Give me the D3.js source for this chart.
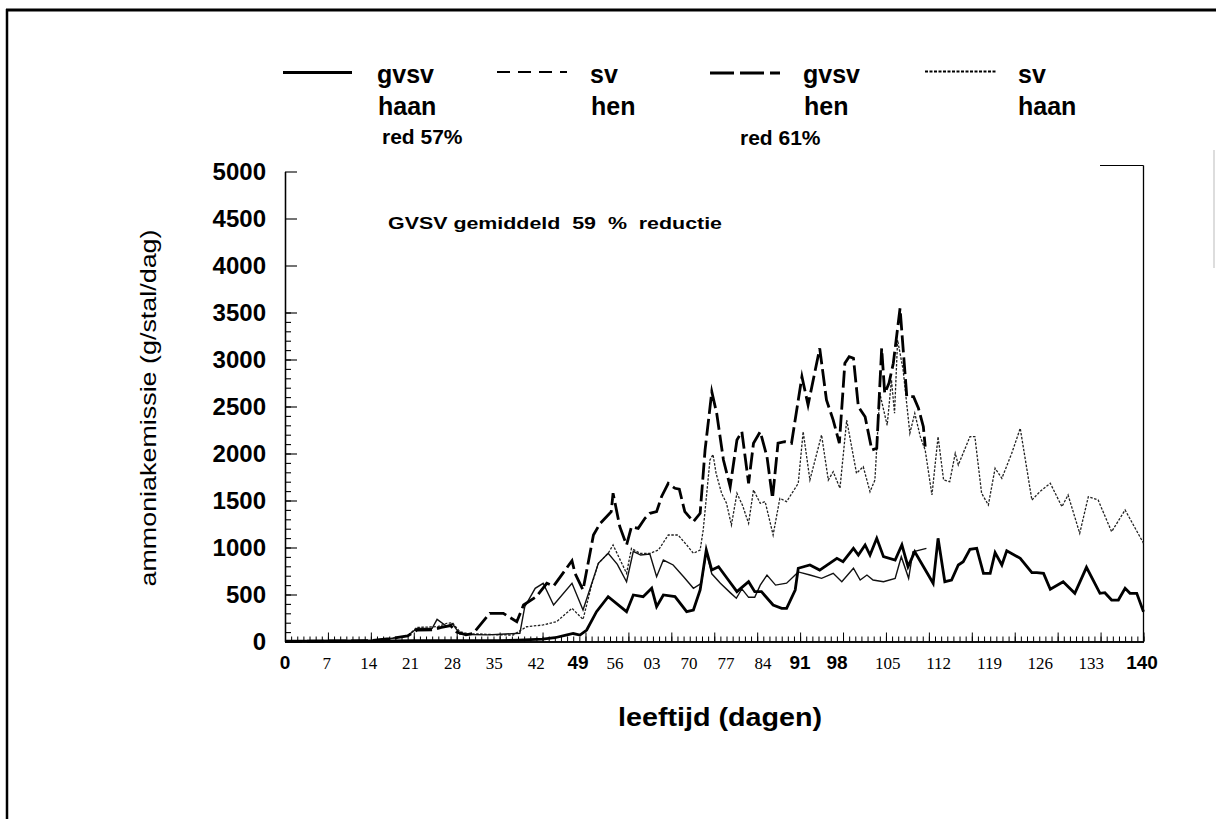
<!DOCTYPE html>
<html><head><meta charset="utf-8">
<script src="https://cdn.jsdelivr.net/npm/d3@7"></script>
<style>
html,body{margin:0;padding:0;background:#fff;}
svg{display:block;font-family:"Liberation Sans",Arial,sans-serif;}
</style></head><body>
<svg id="chart" width="1216" height="819"></svg>
<script>
// ---------- data (day, g/stal/dag) ----------
const gvsvHaan = [[0,5],[7,5],[14,5],[21,10],[28,10],[35,10],[38,15],[42,25],[44,40],[46,70],[47,85],[48.1,69],[49.2,122],[50.8,317],[52.7,477],[55.7,317],[56.8,495],[58.4,477],[59.8,566],[60.6,370],[61.7,495],[63.6,477],[65.5,317],[66.6,335],[67.7,548],[68.7,973],[69.6,760],[70.7,796],[72.3,654],[73.7,530],[75.6,636],[76.6,530],[77.7,530],[79.6,388],[81,353],[81.8,353],[83.2,548],[83.7,779],[85.6,814],[87.2,760],[90,885],[91,849],[92.7,991],[93.5,920],[94.6,1027],[95.4,920],[96.5,1098],[97.6,902],[99.5,867],[100.6,1027],[101.6,796],[102.7,955],[105.7,619],[106.5,1098],[107.6,636],[108.7,654],[109.8,814],[110.6,849],[111.7,981],[112.8,991],[113.9,725],[115,725],[115.8,945],[116.9,814],[117.7,966],[119.9,885],[121.8,732],[122.6,732],[123.7,725],[124.8,555],[126.9,636],[128.8,513],[130.7,789],[132.9,513],[133.7,519],[134.8,441],[135.9,441],[137,566],[137.8,513],[138.9,513],[140,317]];
const svHen = [[0,0],[7,5],[14,10],[17,30],[20,60],[21.5,120],[24,125],[25.5,150],[27,170],[28,100],[29.5,70],[30.7,87],[33.4,300],[35.6,300],[37.8,210],[38.9,388],[41,477],[42.7,619],[43.8,590],[46.8,860],[47.3,725],[48.6,548],[50.3,1133],[51.4,1257],[52.7,1346],[53.2,1381],[53.5,1577],[54.6,1221],[55.7,1027],[56.5,1221],[57.6,1204],[58.7,1311],[59.5,1364],[60.6,1381],[61.4,1540],[62.5,1683],[63.6,1630],[64.3,1620],[65.2,1381],[66.6,1274],[67.7,1364],[68.5,2037],[69.6,2657],[70.4,2427],[71.5,1931],[72.6,1647],[73.7,2144],[74.5,2232],[75.6,1683],[76.4,2109],[77.5,2232],[78.6,1966],[79.5,1523],[80.4,2109],[81.5,2126],[82.6,2109],[84.3,2817],[85.3,2516],[87.2,3119],[88.3,2569],[89.4,2356],[90.4,2109],[91.3,2960],[92,3030],[92.7,3013],[93.5,2498],[94.6,2391],[95.7,2037],[96.5,2055],[97.3,3119],[97.8,2640],[98.5,2750],[99.2,2960],[100.3,3545],[101.4,2604],[102.5,2604],[103.3,2481],[104.1,2285],[104.4,2072]];
const gvsvHen = [[0,5],[7,10],[14,15],[17,30],[20,60],[21.5,140],[24,140],[24.8,236],[26.4,160],[27.3,190],[28.5,80],[30,75],[33,70],[36,80],[38.3,87],[39.1,370],[40.8,566],[42.1,619],[43.8,388],[46.8,619],[48.6,335],[51.1,832],[52.7,938],[54.2,820],[55.7,636],[56.8,960],[58,920],[59.5,930],[60.6,689],[61.7,867],[63.3,814],[65,689],[66.6,566],[67.9,619],[68.7,950],[69.6,720],[71,620],[72.6,520],[73.6,460],[74.5,560],[75.6,470],[76.6,470],[77.5,600],[78.6,707],[80,600],[81.8,620],[83.7,740],[85.6,707],[87.5,672],[89.4,725],[90.8,636],[92.7,779],[93.8,654],[94.9,707],[95.9,654],[97.6,636],[99.5,672],[100.5,902],[101.7,672],[102.4,955],[104.6,990]];
const svHaan = [[0,0],[7,0],[14,10],[17,30],[20,60],[21.5,150],[24,155],[25,160],[26.4,194],[27.3,200],[28.5,104],[30,80],[31.8,80],[35,70],[37.2,69],[39.4,157],[42.1,176],[44.3,211],[46.8,353],[48.6,235],[50,600],[51.1,832],[52.7,938],[53.5,1027],[55.7,725],[56.5,991],[57.9,938],[59.5,938],[60.9,973],[62.5,1133],[64.1,1133],[65.5,1027],[66.6,938],[67.7,973],[68.2,1186],[69.3,1931],[69.8,1990],[70.3,1789],[71.2,1577],[72,1470],[72.8,1239],[73.7,1577],[74.6,1450],[75.6,1257],[76.4,1612],[77.5,1470],[78.3,1488],[79.6,1133],[80.7,1523],[81.8,1488],[83.7,1683],[84.5,2232],[85.6,1718],[87.5,2197],[88.6,1718],[89.4,1806],[90.5,1630],[91.6,2356],[93.2,1789],[94.3,1860],[95.4,1594],[96.2,1718],[97,2640],[98.2,2300],[98.9,2782],[99.4,2428],[99.9,3207],[100.8,2888],[101.9,2215],[102.7,2428],[103.6,2179],[104.4,2037],[105.5,1559],[106.5,2179],[107.4,1718],[108.4,1700],[109.3,2002],[109.8,1878],[111.7,2179],[112.5,2179],[113.6,1577],[114.7,1452],[115.8,1843],[116.9,1736],[118.5,2000],[119.9,2268],[121.8,1505],[123.1,1594],[124.8,1683],[126.7,1434],[127.7,1559],[129.6,1151],[131,1540],[132.6,1505],[134.8,1168],[137,1399],[140,1045]];

const xTickDays = [0,7,14,21,28,35,42,49,56,63,70,77,84,91,98,105,112,119,126,133,140];
const xTickLabels = ["0","7","14","21","28","35","42","49","56","03","70","77","84","91","98","105","112","119","126","133","140"];
const xBoldLabels = ["0","49","91","98","140"];
const yTickValues = [0,500,1000,1500,2000,2500,3000,3500,4000,4500,5000];

const legendItems = [
  {line:["gvsv","haan"], red:"red 57%"},
  {line:["sv","hen"], red:null},
  {line:["gvsv","hen"], red:"red 61%"},
  {line:["sv","haan"], red:null}
];

// ---------- drawing ----------
const svg = d3.select("#chart");
const x = d3.scaleLinear().domain([0,140]).range([285,1143.5]);
const y = d3.scaleLinear().domain([0,5000]).range([641.5,171.5]);
// the typed day labels sit unevenly under the ticks
const xLab = d3.scaleLinear().domain([0,49,98,140]).range([285,578,837,1142]);

// page frame
svg.append("line").attr("x1",6).attr("x2",1216).attr("y1",10).attr("y2",10).attr("stroke","#000").attr("stroke-width",3);
svg.append("line").attr("x1",7).attr("x2",7).attr("y1",9).attr("y2",819).attr("stroke","#000").attr("stroke-width",2.5);
svg.append("line").attr("x1",1214).attr("x2",1214).attr("y1",150).attr("y2",268).attr("stroke","#bbb").attr("stroke-width",1);

// plot frame right + top bit
svg.append("line").attr("x1",x(140)).attr("x2",x(140)).attr("y1",165.5).attr("y2",y(0)).attr("stroke","#000").attr("stroke-width",1.3);
svg.append("line").attr("x1",1100).attr("x2",x(140)).attr("y1",165.5).attr("y2",165.5).attr("stroke","#000").attr("stroke-width",1);

// x axis (ticks inward)
const gx = svg.append("g").attr("transform",`translate(0,${y(0)})`);
gx.call(d3.axisBottom(x).tickValues(d3.range(0,141,1)).tickSize(-5).tickSizeOuter(0).tickFormat(""));
gx.append("g").call(d3.axisBottom(x).tickValues(xTickDays).tickSize(-9).tickSizeOuter(0).tickFormat(""));
gx.selectAll("path.domain").attr("stroke","#000").attr("stroke-width",1.5);
gx.selectAll("line").attr("stroke","#000").attr("stroke-width",1);

// y axis (ticks inward)
const gy = svg.append("g").attr("transform",`translate(${x(0)},0)`);
gy.call(d3.axisLeft(y).tickValues(d3.range(0,3501,100)).tickSize(-6).tickSizeOuter(0).tickFormat(""));
gy.append("g").call(d3.axisLeft(y).tickValues(yTickValues).tickSize(-12).tickSizeOuter(0).tickFormat(""));
gy.selectAll("path.domain").attr("stroke","#000").attr("stroke-width",1.3);
gy.selectAll("line").attr("stroke","#000").attr("stroke-width",1.1);

// y tick labels
svg.append("g").selectAll("text").data(yTickValues).join("text")
  .attr("x",266).attr("y",d=>y(d)).attr("dy","0.36em")
  .attr("text-anchor","end").attr("font-size",24).attr("font-weight","bold")
  .text(d=>d);

// x tick labels
svg.append("g").selectAll("text").data(xTickDays).join("text")
  .attr("x",d=>xLab(d)).attr("y",669).attr("text-anchor","middle")
  .each(function(d,i){
    const lab = xTickLabels[i];
    const s = d3.select(this).text(lab);
    if (xBoldLabels.includes(lab)) s.attr("font-size",19).attr("font-weight","bold").attr("font-family","Liberation Sans, Arial, sans-serif");
    else s.attr("font-size",17).attr("font-family","Liberation Serif, Times New Roman, serif");
  });

// axis titles
svg.append("text").attr("transform","translate(156,408) rotate(-90)")
  .attr("text-anchor","middle").attr("font-size",22)
  .attr("textLength",357).attr("lengthAdjust","spacingAndGlyphs")
  .text("ammoniakemissie (g/stal/dag)");
svg.append("text").attr("x",720).attr("y",726).attr("text-anchor","middle")
  .attr("font-size",25).attr("font-weight","bold")
  .attr("textLength",204).attr("lengthAdjust","spacingAndGlyphs")
  .text("leeftijd (dagen)");

// annotation
svg.append("text").attr("x",388).attr("y",229).attr("font-size",17).attr("font-weight","bold")
  .attr("xml:space","preserve").attr("textLength",334).attr("lengthAdjust","spacingAndGlyphs")
  .text("GVSV gemiddeld  59  %  reductie");

// series lines
const line = d3.line().x(d=>x(d[0])).y(d=>y(d[1]));
const seriesStyles = [
  {data:svHaan, w:1.3, dash:"2.5,1.5", color:"#222"},
  {data:gvsvHen, w:1.4, dash:null, color:"#111"},
  {data:gvsvHaan, w:2.8, dash:null, color:"#000"},
  {data:svHen, w:2.8, dash:"17,5", color:"#000"}
];
seriesStyles.forEach(s=>{
  svg.append("path").datum(s.data).attr("d",line)
    .attr("fill","none").attr("stroke",s.color).attr("stroke-width",s.w)
    .attr("stroke-linejoin","miter").attr("stroke-miterlimit",6)
    .attr("stroke-dasharray",s.dash);
});

// legend
const legendSamples = [
  {x1:283,x2:352,y:72.5,w:3.2,dash:null},
  {x1:497,x2:567,y:72,w:2.2,dash:"13,8"},
  {x1:710,x2:780,y:73,w:3.2,dash:"24,6"},
  {x1:925,x2:997,y:71.5,w:1.8,dash:"3,1.5"}
];
const legendTextX = [377,590,803,1018];
const legendRedPos = [{x:382,y:144},null,{x:740,y:145},null];
legendSamples.forEach((s,i)=>{
  svg.append("line").attr("x1",s.x1).attr("x2",s.x2).attr("y1",s.y).attr("y2",s.y)
    .attr("stroke","#000").attr("stroke-width",s.w).attr("stroke-dasharray",s.dash);
  const it = legendItems[i];
  svg.append("text").attr("x",legendTextX[i]).attr("y",83).attr("font-size",25).attr("font-weight","bold").text(it.line[0]);
  svg.append("text").attr("x",legendTextX[i]+(i===3?0:1)).attr("y",115).attr("font-size",25).attr("font-weight","bold").text(it.line[1]);
  if (it.red) {
    svg.append("text").attr("x",legendRedPos[i].x).attr("y",legendRedPos[i].y)
      .attr("font-size",21).attr("font-weight","bold").attr("xml:space","preserve")
      .text(it.red);
  }
});
</script>
</body></html>
